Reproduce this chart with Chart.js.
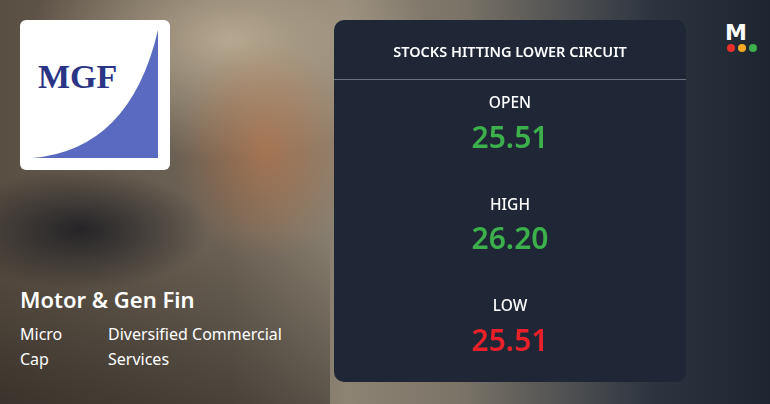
<!DOCTYPE html>
<html><head><meta charset="utf-8">
<script src="https://cdn.jsdelivr.net/npm/chart.js@4/dist/chart.umd.min.js"></script>
<style>
body{margin:0;width:770px;height:404px;overflow:hidden;font-family:"Noto Sans",sans-serif;}
#bg{position:absolute;left:0;top:0;width:770px;height:404px;
background:
radial-gradient(ellipse 90px 110px at 265px 150px,rgba(200,120,70,.55),rgba(0,0,0,0) 100%),
radial-gradient(ellipse 200px 120px at 230px 40px,rgba(190,175,150,.9),rgba(0,0,0,0) 100%),
radial-gradient(ellipse 130px 60px at 80px 230px,rgba(30,30,35,.9),rgba(0,0,0,0) 100%),
linear-gradient(90deg,#5a4f43 0%,#6f6558 30%,#8d8373 45%,#7a7367 60%,#2c3440 85%,#1c2530 100%);}
#shade{position:absolute;left:0;top:230px;width:330px;height:174px;background:linear-gradient(180deg,rgba(0,0,0,0),rgba(0,0,0,.35));}
#logo{position:absolute;left:20px;top:20px;width:150px;height:150px;background:#fff;border-radius:6px;overflow:hidden}
#logo svg{position:absolute;left:0;top:0}
.t{position:absolute;color:#fff}
#wrap{position:absolute;left:334px;top:20px;width:352px;height:362px}
#mlogo{position:absolute;left:725px;top:20px;}
</style></head><body>
<div id="bg"></div><div id="shade"></div>
<div id="logo"><svg width="150" height="150">
<path d="M12 138 Q110 130 138 10 L138 138 Z" fill="#5a6ac0"/>
<text x="18" y="68" font-family="Liberation Serif" font-weight="bold" font-size="34" fill="#2b3585">MGF</text>
</svg></div>
<div class="t" style="left:20px;top:284px;font-size:22px;font-weight:600">Motor &amp; Gen Fin</div>
<div class="t" style="left:20px;top:322px;font-size:16px;line-height:25px">Micro<br>Cap</div>
<div class="t" style="left:108px;top:322px;font-size:16px;line-height:25px">Diversified Commercial<br>Services</div>
<div id="mlogo"><svg width="40" height="36"><text x="0" y="20" font-family="DejaVu Sans" font-weight="bold" font-size="22" fill="#fff">M</text>
<circle cx="6" cy="28" r="4" fill="#e8302a"/><circle cx="17" cy="28" r="4" fill="#f5a623"/><circle cx="28" cy="28" r="4" fill="#3cb04a"/></svg></div>
<div id="wrap"><canvas id="c" width="352" height="362"></canvas></div>
<script>
const title="STOCKS HITTING LOWER CIRCUIT";
const labels=["OPEN","HIGH","LOW"];
const values=[25.51,26.20,25.51];
const colors=["#3cb04a","#3cb04a","#e8202a"];
const panel={id:"panel",beforeDraw(ch){const x=ch.ctx,w=ch.width,h=ch.height;
x.save();x.fillStyle="#1f2737";x.beginPath();x.roundRect(0,0,w,h,10);x.fill();
x.fillStyle="#fff";x.textAlign="center";x.textBaseline="middle";
x.font="600 14.5px 'Noto Sans'";x.fillText(title,w/2,33);
x.strokeStyle="#6b7380";x.lineWidth=1;x.beginPath();x.moveTo(0,59.5);x.lineTo(w,59.5);x.stroke();
labels.forEach((l,i)=>{const y=84+i*101.5;x.fillStyle="#fff";x.font="500 15.5px 'Noto Sans'";x.fillText(l,w/2,y);
x.fillStyle=colors[i];x.font="600 30px 'Noto Sans'";x.fillText(values[i].toFixed(2),w/2,y+35);});
x.restore();}};
new Chart(document.getElementById("c"),{type:"bar",data:{labels:labels,datasets:[{data:[],backgroundColor:colors}]},
options:{responsive:false,animation:false,events:[],plugins:{legend:{display:false},tooltip:{enabled:false}},
scales:{x:{display:false},y:{display:false}}},plugins:[panel]});
</script></body></html>
